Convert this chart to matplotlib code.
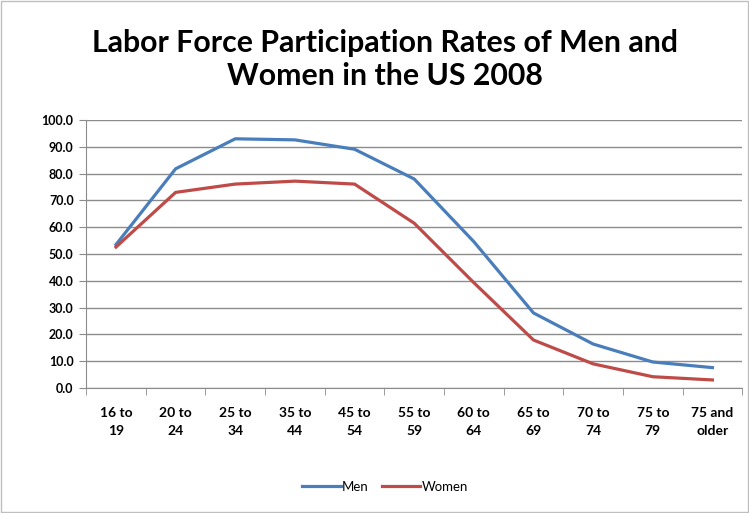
import matplotlib.pyplot as plt
import numpy as np

plt.rcParams['font.family'] = ['Lato', 'DejaVu Sans']

# 数据
ages = ['16 to\n19', '20 to\n24', '25 to\n34', '35 to\n44', '45 to\n54', '55 to\n59',
        '60 to\n64', '65 to\n69', '70 to\n74', '75 to\n79', '75 and\nolder']
men = [53.5, 81.8, 93.0, 92.6, 89.1, 78.0, 54.6, 28.0, 16.4, 9.7, 7.6]
women = [52.6, 73.0, 76.1, 77.2, 76.1, 61.5, 39.3, 17.9, 9.0, 4.2, 3.0]

fig = plt.figure(figsize=(7.49, 5.13), dpi=100)
ax = fig.add_axes([0.115, 0.2437, 0.876, 0.5223])

x = np.arange(len(ages))
ax.plot(x, men, color='#4A7EBB', lw=2.3, label='Men')
ax.plot(x, women, color='#BE4B48', lw=2.3, label='Women')

ax.set_xlim(-0.5, len(ages) - 0.5)
ax.set_ylim(0, 100)
ax.set_yticks(np.arange(0, 101, 10))
ax.set_yticklabels(['%.1f' % v for v in np.arange(0, 101, 10)], fontsize=9, fontweight='bold')
ax.yaxis.grid(True, color='#8c8c8c', lw=1)
ax.set_axisbelow(True)

# 类别标签居中, 刻度线放在类别之间
ax.set_xticks(x)
ax.set_xticklabels(ages, fontsize=10, fontweight='bold', linespacing=1.6)
ax.tick_params(axis='x', which='major', length=0, pad=14)
ax.set_xticks(np.arange(-0.5, len(ages)), minor=True)
ax.tick_params(axis='x', which='minor', length=5, color='#8c8c8c', direction='out')
ax.tick_params(axis='y', length=5, color='#8c8c8c', direction='out', pad=4)

for s in ['top', 'right']:
    ax.spines[s].set_visible(False)
for s in ['left', 'bottom']:
    ax.spines[s].set_color('#8c8c8c')

fig.text(0.514, 0.884, 'Labor Force Participation Rates of Men and\nWomen in the US 2008',
         ha='center', va='center', fontsize=21.8, fontweight='bold', linespacing=1.25)

fig.legend(loc='center', bbox_to_anchor=(0.514, 0.051), ncol=2, frameon=False,
           fontsize=9.5, handlelength=2.9, handletextpad=0.1, columnspacing=1.0)

# 外框
fig.patches.append(plt.Rectangle((0.001, 0.001), 0.997, 0.997, transform=fig.transFigure,
                                 fill=False, edgecolor='#bfbfbf', lw=1))

fig.savefig('out.png', dpi=100)
